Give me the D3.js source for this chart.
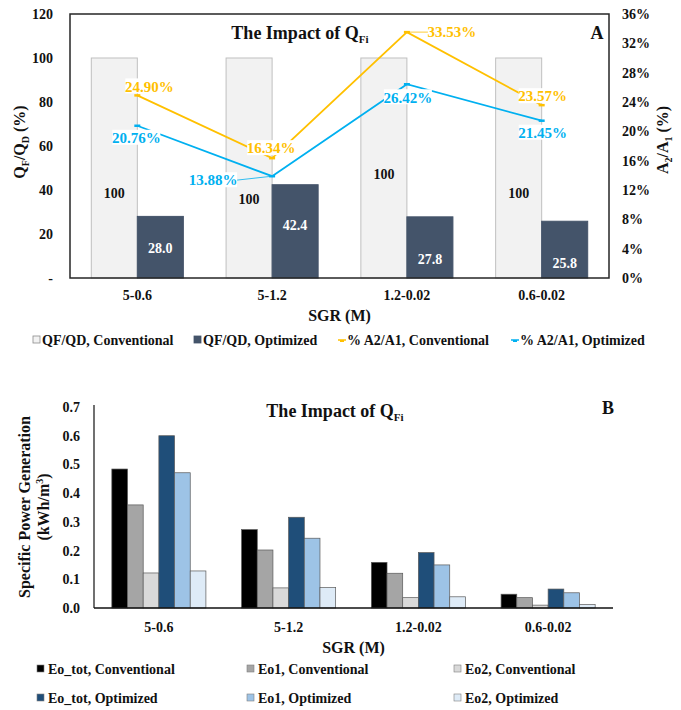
<!DOCTYPE html>
<html>
<head>
<meta charset="utf-8">
<script src="https://cdn.jsdelivr.net/npm/d3@7"></script>
<style>
  body { margin: 0; background: #fff; }
  svg, svg text, svg tspan { font-family: "Liberation Serif", "Times New Roman", Tinos, "DejaVu Serif", serif !important; font-weight: bold; }
</style>
</head>
<body>
<svg id="chart" width="681" height="710" font-family="Liberation Serif, Times New Roman, serif"></svg>
<script>
// ---- data ----
var categories = ["5-0.6", "5-1.2", "1.2-0.02", "0.6-0.02"];

// panel A
var qfConventional = [100, 100, 100, 100];
var qfOptimized = [28.0, 42.4, 27.8, 25.8];
var areaConventional = [0.2490, 0.1634, 0.3353, 0.2357];
var areaOptimized = [0.2076, 0.1388, 0.2642, 0.2145];
var leftTicks = [0, 20, 40, 60, 80, 100, 120];
var rightTicks = [0, 0.04, 0.08, 0.12, 0.16, 0.20, 0.24, 0.28, 0.32, 0.36];

// panel B
var eoTotConventional = [0.484, 0.273, 0.159, 0.048];
var eo1Conventional = [0.359, 0.202, 0.121, 0.036];
var eo2Conventional = [0.122, 0.070, 0.036, 0.010];
var eoTotOptimized = [0.600, 0.316, 0.193, 0.066];
var eo1Optimized = [0.471, 0.243, 0.150, 0.053];
var eo2Optimized = [0.129, 0.071, 0.039, 0.012];
var bTicks = [0, 0.1, 0.2, 0.3, 0.4, 0.5, 0.6, 0.7];

var FONT = "Liberation Serif, Times New Roman, serif";
var svg = d3.select("#chart");

// ================= panel A =================
var A = {left: 70, right: 609, top: 14, bottom: 278};

var xA = d3.scaleBand().domain(categories).range([A.left, A.right])
    .paddingInner(0.317).paddingOuter(0.158);
var xASub = d3.scaleBand().domain(["conv", "opt"]).range([0, xA.bandwidth()]);
var yL = d3.scaleLinear().domain([0, 120]).range([A.bottom, A.top]);
var yR = d3.scaleLinear().domain([0, 0.36]).range([A.bottom, A.top]);

var gA = svg.append("g");

// bars
var barsA = [
  {key: "conv", vals: qfConventional, fill: "#f2f2f2", stroke: "#bfbfbf"},
  {key: "opt", vals: qfOptimized, fill: "#44546a", stroke: "#44546a"}
];
barsA.forEach(function(s) {
  gA.selectAll(".b" + s.key)
    .data(s.vals)
    .enter().append("rect")
    .attr("x", function(d, i) { return xA(categories[i]) + xASub(s.key); })
    .attr("y", function(d) { return yL(d); })
    .attr("width", xASub.bandwidth())
    .attr("height", function(d) { return yL(0) - yL(d); })
    .attr("fill", s.fill)
    .attr("stroke", s.stroke)
    .attr("stroke-width", 1);
});

// bar value labels (label heights in left-axis units, as placed in the original)
var convLabelAt = [38.6, 35.9, 47.3, 38.6];
var optLabelAt = [13.6, 24.1, 8.6, 6.8];
gA.selectAll(".lconv").data(qfConventional).enter().append("text")
  .attr("x", function(d, i) { return xA(categories[i]) + xASub("conv") + xASub.bandwidth() / 2; })
  .attr("y", function(d, i) { return yL(convLabelAt[i]); })
  .attr("dy", "0.35em").attr("text-anchor", "middle")
  .attr("font-size", 14).attr("fill", "#111")
  .text(function(d) { return d3.format("d")(d); });
gA.selectAll(".lopt").data(qfOptimized).enter().append("text")
  .attr("x", function(d, i) { return xA(categories[i]) + xASub("opt") + xASub.bandwidth() / 2; })
  .attr("y", function(d, i) { return yL(optLabelAt[i]); })
  .attr("dy", "0.35em").attr("text-anchor", "middle")
  .attr("font-size", 14).attr("fill", "#fff")
  .text(function(d) { return d3.format(".1f")(d); });

// lines
var cx = function(i) { return xA(categories[i]) + xA.bandwidth() / 2; };
var lineGen = d3.line().x(function(d, i) { return cx(i); }).y(function(d) { return yR(d); });

var lineSeries = [
  {vals: areaConventional, color: "#ffc000",
   off: [[12, -9], [-1, -10], [45, 0], [1, -9]]},
  {vals: areaOptimized, color: "#00b0f0",
   off: [[-1, 12], [-59, 4], [1, 13], [1, 12]]}
];
lineSeries.forEach(function(s) {
  gA.append("path").datum(s.vals)
    .attr("d", lineGen).attr("fill", "none")
    .attr("stroke", s.color).attr("stroke-width", 1.8);
  // leader lines for labels moved away from their point
  s.vals.forEach(function(v, i) {
    if (Math.abs(s.off[i][0]) > 20) {
      var sign = s.off[i][0] > 0 ? -1 : 1;
      gA.append("line")
        .attr("x1", cx(i)).attr("y1", yR(v))
        .attr("x2", cx(i) + s.off[i][0] + sign * 23).attr("y2", yR(v) + s.off[i][1])
        .attr("stroke", s.color).attr("stroke-width", 0.8);
    }
  });
  gA.selectAll(null).data(s.vals).enter().append("line")
    .attr("x1", function(d, i) { return cx(i) - 3; })
    .attr("x2", function(d, i) { return cx(i) + 3; })
    .attr("y1", function(d) { return yR(d); })
    .attr("y2", function(d) { return yR(d); })
    .attr("stroke", s.color).attr("stroke-width", 2.5);
});
lineSeries.forEach(function(s) {
  s.vals.forEach(function(v, i) {
    var lx = cx(i) + s.off[i][0], ly = yR(v) + s.off[i][1];
    gA.append("rect").attr("x", lx - 24).attr("y", ly - 8)
      .attr("width", 48).attr("height", 15).attr("fill", "#fff");
    gA.append("text").attr("x", lx).attr("y", ly).attr("dy", "0.35em")
      .attr("text-anchor", "middle").attr("font-size", 15)
      .attr("fill", s.color).text(d3.format(".2%")(v));
  });
});

// frame
gA.append("rect").attr("x", A.left).attr("y", A.top)
  .attr("width", A.right - A.left).attr("height", A.bottom - A.top)
  .attr("fill", "none").attr("stroke", "#262626").attr("stroke-width", 1.5);

// axes
var axL = gA.append("g").attr("transform", "translate(" + A.left + ",0)")
  .call(d3.axisLeft(yL).tickValues(leftTicks).tickSize(0).tickPadding(17)
    .tickFormat(function(d) { return d === 0 ? "-" : d; }));
var axR = gA.append("g").attr("transform", "translate(" + A.right + ",0)")
  .call(d3.axisRight(yR).tickValues(rightTicks).tickSize(0).tickPadding(13)
    .tickFormat(d3.format(".0%")));
var axB = gA.append("g").attr("transform", "translate(0," + A.bottom + ")")
  .call(d3.axisBottom(xA).tickSize(0).tickPadding(12));
[axL, axR, axB].forEach(function(a) {
  a.attr("font-family", FONT);
  a.select(".domain").remove();
  a.selectAll("text").attr("font-size", 14).attr("fill", "#111");
});

// title + panel letter
var tA = gA.append("text").attr("x", 300).attr("y", 39).attr("text-anchor", "middle")
  .attr("font-size", 18).attr("fill", "#111");
tA.append("tspan").text("The Impact of Q");
tA.append("tspan").attr("font-size", 11).attr("dy", 4).text("Fi");
gA.append("text").attr("x", 597).attr("y", 39).attr("text-anchor", "middle")
  .attr("font-size", 18).attr("fill", "#111").text("A");

// axis titles
var ltA = gA.append("text").attr("transform", "translate(25,142) rotate(-90)")
  .attr("text-anchor", "middle").attr("font-size", 16).attr("fill", "#111");
ltA.append("tspan").text("Q");
ltA.append("tspan").attr("font-size", 10).attr("dy", 4).text("F");
ltA.append("tspan").attr("dy", -4).text("/Q");
ltA.append("tspan").attr("font-size", 10).attr("dy", 4).text("D");
ltA.append("tspan").attr("dy", -4).text(" (%)");

var rtA = gA.append("text").attr("transform", "translate(668,140) rotate(-90)")
  .attr("text-anchor", "middle").attr("font-size", 16).attr("fill", "#111");
rtA.append("tspan").text("A");
rtA.append("tspan").attr("font-size", 10).attr("dy", 4).text("2");
rtA.append("tspan").attr("dy", -4).text("/A");
rtA.append("tspan").attr("font-size", 10).attr("dy", 4).text("1");
rtA.append("tspan").attr("dy", -4).text(" (%)");

gA.append("text").attr("x", (A.left + A.right) / 2).attr("y", 321)
  .attr("text-anchor", "middle").attr("font-size", 16).attr("fill", "#111").text("SGR (M)");

// legend A
var legA = [
  {label: "QF/QD, Conventional", type: "box", fill: "#f2f2f2", stroke: "#8c8c8c", x: 33},
  {label: "QF/QD, Optimized", type: "box", fill: "#44546a", stroke: "#44546a", x: 194},
  {label: "% A2/A1, Conventional", type: "line", fill: "#ffc000", x: 338},
  {label: "% A2/A1, Optimized", type: "line", fill: "#00b0f0", x: 511}
];
legA.forEach(function(l) {
  var g = gA.append("g").attr("transform", "translate(" + l.x + ",340)");
  if (l.type === "box") {
    g.append("rect").attr("x", 0).attr("y", -4).attr("width", 7).attr("height", 7)
      .attr("fill", l.fill).attr("stroke", l.stroke).attr("stroke-width", 0.8);
  } else {
    g.append("line").attr("x1", 0).attr("x2", 8).attr("y1", 0).attr("y2", 0)
      .attr("stroke", l.fill).attr("stroke-width", 1.5);
    g.append("line").attr("x1", 2).attr("x2", 6).attr("y1", 1).attr("y2", 1)
      .attr("stroke", l.fill).attr("stroke-width", 2);
  }
  g.append("text").attr("x", 9).attr("y", 0).attr("dy", "0.35em")
    .attr("font-size", 14).attr("fill", "#111").text(l.label);
});

// ================= panel B =================
var B = {left: 94, right: 613, top: 407, bottom: 608};
var seriesB = [
  {name: "Eo_tot, Conventional", vals: eoTotConventional, fill: "#000000"},
  {name: "Eo1, Conventional", vals: eo1Conventional, fill: "#a5a5a5"},
  {name: "Eo2, Conventional", vals: eo2Conventional, fill: "#d9d9d9"},
  {name: "Eo_tot, Optimized", vals: eoTotOptimized, fill: "#1f4e79"},
  {name: "Eo1, Optimized", vals: eo1Optimized, fill: "#9dc3e6"},
  {name: "Eo2, Optimized", vals: eo2Optimized, fill: "#deebf7"}
];
var xB = d3.scaleBand().domain(categories).range([B.left, B.right])
    .paddingInner(0.275).paddingOuter(0.1375);
var xBSub = d3.scaleBand().domain(seriesB.map(function(s) { return s.name; }))
    .range([0, xB.bandwidth()]);
var yB = d3.scaleLinear().domain([0, 0.7]).range([B.bottom, B.top]);

var gB = svg.append("g");
seriesB.forEach(function(s) {
  gB.selectAll(null).data(s.vals).enter().append("rect")
    .attr("x", function(d, i) { return xB(categories[i]) + xBSub(s.name); })
    .attr("y", function(d) { return yB(d); })
    .attr("width", xBSub.bandwidth())
    .attr("height", function(d) { return yB(0) - yB(d); })
    .attr("fill", s.fill)
    .attr("stroke", "#595959").attr("stroke-width", 0.7);
});

var axBL = gB.append("g").attr("transform", "translate(" + B.left + ",0)")
  .call(d3.axisLeft(yB).tickValues(bTicks).tickSize(0).tickPadding(14)
    .tickFormat(d3.format(".1f")));
var axBB = gB.append("g").attr("transform", "translate(0," + B.bottom + ")")
  .call(d3.axisBottom(xB).tickSize(0).tickPadding(14));
[axBL, axBB].forEach(function(a) {
  a.attr("font-family", FONT);
  a.select(".domain").remove();
  a.selectAll("text").attr("font-size", 14).attr("fill", "#111");
});
gB.append("line").attr("x1", B.left).attr("x2", B.left).attr("y1", B.top - 2).attr("y2", B.bottom)
  .attr("stroke", "#111").attr("stroke-width", 1.2);
gB.append("line").attr("x1", B.left).attr("x2", B.right).attr("y1", B.bottom).attr("y2", B.bottom)
  .attr("stroke", "#111").attr("stroke-width", 1.5);

var tB = gB.append("text").attr("x", 335).attr("y", 417).attr("text-anchor", "middle")
  .attr("font-size", 18).attr("fill", "#111");
tB.append("tspan").text("The Impact of Q");
tB.append("tspan").attr("font-size", 11).attr("dy", 4).text("Fi");
gB.append("text").attr("x", 608).attr("y", 414).attr("text-anchor", "middle")
  .attr("font-size", 18).attr("fill", "#111").text("B");

var ltB = gB.append("text").attr("transform", "translate(30,507) rotate(-90)")
  .attr("text-anchor", "middle").attr("font-size", 16).attr("fill", "#111");
ltB.append("tspan").attr("x", 0).attr("dy", 0).text("Specific Power Generation");
ltB.append("tspan").attr("x", 0).attr("dy", 19).text("(kWh/m");
ltB.append("tspan").attr("font-size", 10).attr("dy", -6).text("3");
ltB.append("tspan").attr("dy", 6).text(")");

gB.append("text").attr("x", (B.left + B.right) / 2).attr("y", 653)
  .attr("text-anchor", "middle").attr("font-size", 16).attr("fill", "#111").text("SGR (M)");

var legBX = [37, 247, 454];
seriesB.forEach(function(s, i) {
  var g = gB.append("g").attr("transform",
    "translate(" + legBX[i % 3] + "," + (669 + Math.floor(i / 3) * 29) + ")");
  g.append("rect").attr("x", 0).attr("y", -4).attr("width", 7).attr("height", 7)
    .attr("fill", s.fill).attr("stroke", "#7f7f7f").attr("stroke-width", 0.6);
  g.append("text").attr("x", 11).attr("y", 0).attr("dy", "0.35em")
    .attr("font-size", 14).attr("fill", "#111").text(s.name);
});
</script>
</body>
</html>
